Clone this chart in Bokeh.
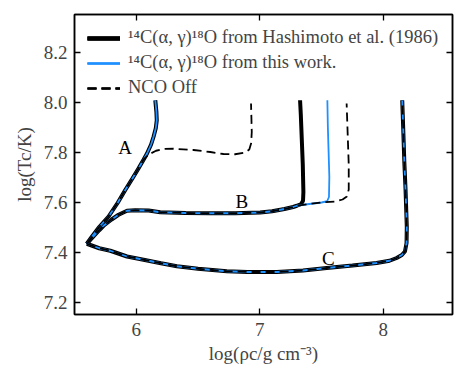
from bokeh.plotting import figure
from bokeh.models import (Range1d, FixedTicker, LinearAxis, Legend, LegendItem,
                          ColumnDataSource, CustomJSTickFormatter)
from bokeh.core.properties import value
from bokeh.embed import file_html
from bokeh.resources import INLINE

# ---------------- data ----------------
# Track A: Hashimoto and this work coincide
track_a_rho = [5.60, 5.642, 5.70, 5.776, 5.85, 5.911, 5.97, 6.019, 6.06, 6.087,
               6.12, 6.14, 6.158, 6.166, 6.163, 6.154]
track_a_T = [7.433, 7.462, 7.500, 7.542, 7.597, 7.648, 7.695, 7.735, 7.770, 7.794,
             7.830, 7.861, 7.895, 7.927, 7.960, 8.007]
# Track A with NCO off
nco_a_rho = [5.60, 5.642, 5.70, 5.776, 5.85, 5.911, 5.97, 6.019, 6.06, 6.10,
             6.16, 6.22, 6.30, 6.463, 6.60, 6.706, 6.80, 6.881, 6.915, 6.930,
             6.935, 6.932, 6.929]
nco_a_T = [7.433, 7.462, 7.500, 7.542, 7.597, 7.648, 7.695, 7.735, 7.770, 7.790,
           7.805, 7.812, 7.813, 7.808, 7.800, 7.792, 7.791, 7.798, 7.810, 7.835,
           7.880, 7.940, 7.994]

# Track B: common part
track_b_rho = [5.60, 5.65, 5.70, 5.735, 5.80, 5.857, 5.925, 5.992, 6.10, 6.194,
               6.40, 6.598, 6.80, 7.003, 7.10, 7.20, 7.27, 7.30]
track_b_T = [7.433, 7.460, 7.487, 7.505, 7.530, 7.549, 7.565, 7.567, 7.566, 7.559,
             7.556, 7.555, 7.555, 7.558, 7.563, 7.572, 7.580, 7.585]
# Track B endings
hashi_b_rho = [7.30, 7.335, 7.350, 7.353, 7.348, 7.340, 7.332, 7.326]
hashi_b_T = [7.585, 7.592, 7.605, 7.640, 7.750, 7.850, 7.950, 8.007]
work_b_rho = [7.30, 7.40, 7.50, 7.545, 7.560, 7.563, 7.557, 7.551, 7.547]
work_b_T = [7.585, 7.592, 7.598, 7.603, 7.620, 7.700, 7.800, 7.900, 8.007]
nco_b_rho = [7.30, 7.40, 7.50, 7.609, 7.67, 7.705, 7.720, 7.720, 7.713, 7.706, 7.703]
nco_b_T = [7.585, 7.592, 7.598, 7.602, 7.610, 7.622, 7.650, 7.750, 7.850, 7.950, 7.994]

# Track C: all three coincide
track_c_rho = [5.60, 5.70, 5.79, 5.925, 6.059, 6.20, 6.329, 6.50, 6.733, 6.90,
               7.137, 7.35, 7.542, 7.75, 7.946, 8.05, 8.108, 8.150, 8.175, 8.188,
               8.190, 8.180, 8.170, 8.162, 8.153]
track_c_T = [7.433, 7.415, 7.405, 7.382, 7.369, 7.355, 7.343, 7.333, 7.323, 7.320,
             7.320, 7.326, 7.336, 7.346, 7.356, 7.365, 7.376, 7.388, 7.402, 7.436,
             7.500, 7.648, 7.760, 7.880, 8.007]

label_text = ["A", "B", "C"]
label_rho = [5.91, 6.855, 7.555]
label_T = [7.82, 7.604, 7.376]

legend_labels = ["\u00b9\u2074C(\u03b1, \u03b3)\u00b9\u2078O from Hashimoto et al. (1986)",
                 "\u00b9\u2074C(\u03b1, \u03b3)\u00b9\u2078O from this work.",
                 "NCO Off"]

x_ticks = [6, 7, 8]
y_ticks = [7.2, 7.4, 7.6, 7.8, 8.0, 8.2]

# ---------------- styling ----------------
FONT = "Liberation Serif"
BLUE = "#1E90FF"

p = figure(width=468, height=382, output_backend="svg", toolbar_location=None,
           x_range=Range1d(5.5, 8.56), y_range=Range1d(7.15, 8.35),
           min_border_left=74, min_border_right=16, min_border_top=14,
           min_border_bottom=68)
p.background_fill_color = "white"
p.border_fill_color = "white"
p.grid.visible = False
p.outline_line_color = "black"
p.outline_line_width = 1.5

# tracks
hashi, work, nco = [], [], []
black_sets = [(track_a_rho, track_a_T),
              (track_b_rho + hashi_b_rho[1:], track_b_T + hashi_b_T[1:]),
              (track_c_rho, track_c_T)]
blue_sets = [(track_a_rho, track_a_T),
             (track_b_rho + work_b_rho[1:], track_b_T + work_b_T[1:]),
             (track_c_rho, track_c_T)]
dash_sets = [(nco_a_rho, nco_a_T),
             (track_b_rho + nco_b_rho[1:], track_b_T + nco_b_T[1:]),
             (track_c_rho, track_c_T)]
for xs, ys in black_sets:
    hashi.append(p.line(xs, ys, line_color="black", line_width=4))
for xs, ys in blue_sets:
    work.append(p.line(xs, ys, line_color=BLUE, line_width=1.8))
for xs, ys in dash_sets:
    nco.append(p.line(xs, ys, line_color="black", line_width=1.8, line_dash="9 5"))

# labels
src = ColumnDataSource(dict(x=label_rho, y=label_T, t=label_text))
p.text(x="x", y="y", text="t", source=src, text_font=value(FONT),
       text_font_size="19px", text_align="center", text_baseline="middle",
       text_color="black")

legend = Legend(items=[LegendItem(label=legend_labels[0], renderers=hashi),
                       LegendItem(label=legend_labels[1], renderers=work),
                       LegendItem(label=legend_labels[2], renderers=nco)],
                location="top_left")
legend.border_line_color = None
legend.background_fill_alpha = 0
legend.label_text_font = FONT
legend.label_text_font_size = "18.5px"
legend.glyph_width = 33
legend.glyph_height = 20
legend.label_height = 20
legend.spacing = 4
legend.padding = 0
legend.margin = 13
legend.label_standoff = 8
p.add_layout(legend)

# axes
def style_axis(ax):
    ax.axis_line_width = 1.5
    ax.major_tick_in = 6
    ax.major_tick_out = 0
    ax.major_tick_line_width = 1.3
    ax.minor_tick_line_color = None
    ax.major_label_text_font = FONT
    ax.major_label_text_font_size = "19px"
    ax.axis_label_text_font = FONT
    ax.axis_label_text_font_size = "19px"
    ax.axis_label_text_font_style = "normal"

p.xaxis.ticker = FixedTicker(ticks=x_ticks)
p.yaxis.ticker = FixedTicker(ticks=y_ticks)
p.yaxis.formatter = CustomJSTickFormatter(code="return tick.toFixed(1);")
p.xaxis.axis_label = "log(\u03c1c/g cm\u207b\u00b3)"
p.yaxis.axis_label = "log(Tc/K)"
style_axis(p.xaxis[0])
style_axis(p.yaxis[0])
p.xaxis.major_label_standoff = 8
p.yaxis.major_label_standoff = 7
p.xaxis.axis_label_standoff = 4
p.yaxis.axis_label_standoff = 6

# mirrored tick marks (no labels) on top and right
top = LinearAxis(ticker=FixedTicker(ticks=x_ticks))
right = LinearAxis(ticker=FixedTicker(ticks=y_ticks))
for ax in (top, right):
    style_axis(ax)
    ax.major_label_text_color = None
    ax.major_label_text_font_size = "1px"
    ax.major_label_standoff = 0
p.add_layout(top, "above")
p.add_layout(right, "right")

open("out.html", "w").write(file_html(p, INLINE))
